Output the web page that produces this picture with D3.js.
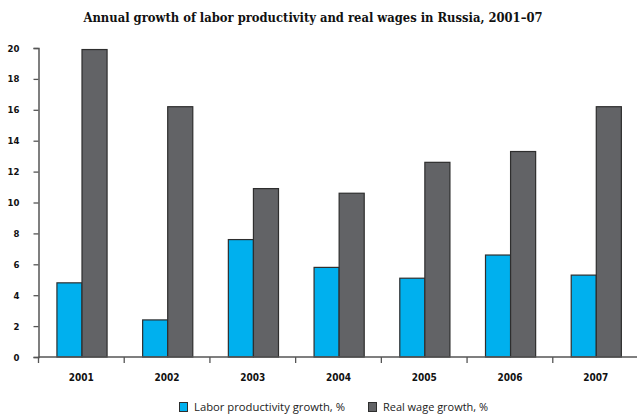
<!DOCTYPE html>
<html><head><meta charset="utf-8">
<script src="https://cdn.jsdelivr.net/npm/d3@7"></script>
<style>body{margin:0;background:#fff}svg{display:block}</style>
</head><body>
<svg id="c" width="637" height="417"></svg>
<script>
const years = ["2001","2002","2003","2004","2005","2006","2007"];
const seriesNames = ["Labor productivity growth, %","Real wage growth, %"];
const productivity = [4.8, 2.4, 7.6, 5.8, 5.1, 6.6, 5.3];
const wages = [19.9, 16.2, 10.9, 10.6, 12.6, 13.3, 16.2];
const yTicks = [0,2,4,6,8,10,12,14,16,18,20];
const colors = ["#00b0ee","#626366"];
const titleText = "Annual growth of labor productivity and real wages in Russia, 2001\u201307";

const svg = d3.select("#c");
const x0 = d3.scaleBand().domain(years).range([38.5, 638.5]).padding(0);
const bw = x0.bandwidth();
const x1 = d3.scaleBand().domain([0,1]).range([bw*0.215, bw*0.8]).padding(0);
const y = d3.scaleLinear().domain([0,20]).range([357, 48]);

svg.append("text").attr("x", 313).attr("y", 22).attr("text-anchor","middle")
  .attr("font-family","'DejaVu Serif', serif").attr("font-weight","bold").attr("font-size",12.5)
  .attr("textLength",459).attr("lengthAdjust","spacingAndGlyphs").attr("fill","#111").text(titleText);

const data = years.map((yr,i)=>({yr, vals:[productivity[i], wages[i]]}));
const g = svg.append("g");
g.selectAll("g.grp").data(data).join("g").attr("class","grp")
  .attr("transform", d=>`translate(${x0(d.yr)},0)`)
  .selectAll("rect").data(d=>d.vals.map((v,k)=>({v,k}))).join("rect")
  .attr("x", d=>x1(d.k)).attr("width", x1.bandwidth())
  .attr("y", d=>y(d.v)).attr("height", d=>y(0)-y(d.v))
  .attr("fill", d=>colors[d.k]).attr("stroke","#2e2e2e").attr("stroke-width",1.2);

// y axis
const ya = svg.append("g").attr("transform","translate(38.5,0)")
  .call(d3.axisLeft(y).tickValues(yTicks).tickSize(5).tickPadding(14).tickFormat(d3.format("d")));
ya.select(".domain").attr("stroke","#555").attr("stroke-width",1.5);
ya.selectAll(".tick line").attr("stroke","#555").attr("stroke-width",1.3);
ya.selectAll("text").attr("font-family","'DejaVu Sans Condensed','DejaVu Sans',sans-serif")
  .attr("font-weight","bold").attr("font-size",9.5).attr("fill","#111");

// x axis
const xa = svg.append("g").attr("transform","translate(0,357)")
  .call(d3.axisBottom(x0).tickSize(0).tickPadding(17));
xa.select(".domain").remove();
svg.append("line").attr("x1",38.5).attr("x2",637).attr("y1",357).attr("y2",357)
  .attr("stroke","#555").attr("stroke-width",1.5);
svg.append("g").selectAll("line").data(years).join("line")
  .attr("x1", d=>x0(d)).attr("x2", d=>x0(d)).attr("y1",357).attr("y2",363)
  .attr("stroke","#555").attr("stroke-width",1.3);
xa.selectAll("text").attr("font-family","'DejaVu Sans Condensed','DejaVu Sans',sans-serif")
  .attr("font-weight","bold").attr("font-size",10).attr("fill","#111");

// legend
const leg = [{x:179.5, tx:194, w:151},{x:368.5, tx:383, w:105}];
const lg = svg.append("g");
seriesNames.forEach((name,i)=>{
  lg.append("rect").attr("x",leg[i].x).attr("y",402.5).attr("width",8).attr("height",9)
    .attr("fill",colors[i]).attr("stroke","#2e2e2e").attr("stroke-width",1);
  lg.append("text").attr("x",leg[i].tx).attr("y",411).attr("font-family","'Open Sans',sans-serif")
    .attr("font-size",10).attr("fill","#222").attr("textLength",leg[i].w)
    .attr("lengthAdjust","spacingAndGlyphs").text(name);
});
</script>
</body></html>
